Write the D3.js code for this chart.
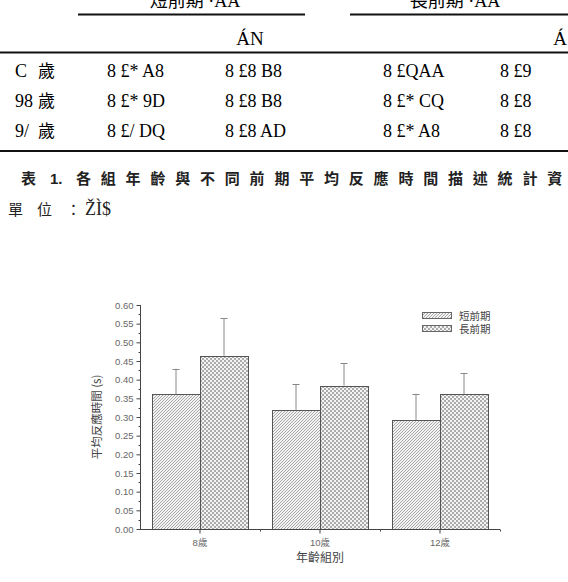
<!DOCTYPE html>
<html><head><meta charset="utf-8">
<script src="https://cdn.jsdelivr.net/npm/d3@7"></script>
<style>body{margin:0;background:#fff}svg{display:block}</style>
</head><body>
<script>
// ---- data ----
const categories = ["8歲", "10歲", "12歲"];
const seriesNames = ["短前期", "長前期"];
const shortMean = [0.361, 0.319, 0.292];
const shortSD = [0.068, 0.069, 0.070];
const longMean = [0.464, 0.384, 0.361];
const longSD = [0.101, 0.061, 0.056];
const yTicks = [0, 0.05, 0.10, 0.15, 0.20, 0.25, 0.30, 0.35, 0.40, 0.45, 0.50, 0.55, 0.60];
// table text (as rendered in the source, garbled encoding)
const tableRowLabels = ["C 歲", "98 歲", "9/ 歲"];
const tableCells = [
  ["8 £* A8", "8 £8 B8", "8 £QAA", "8 £9"],
  ["8 £* 9D", "8 £8 B8", "8 £* CQ", "8 £8"],
  ["8 £/ DQ", "8 £8 AD", "8 £* A8", "8 £8"]
];
const tableHeaders = ["短前期 ·ÀÁ", "長前期 ·ÀÁ"];
const tableSub = ["ÁN", "Á"];
const captionHead = ["表", "1."];
const captionChars = "各組年齡與不同前期平均反應時間描述統計資";
const unitLabel = ["單", "位", "："];
const unitValue = "ŽÌ$";

const W = 568, H = 582;
const svg = d3.select("body").append("svg").attr("width", W).attr("height", H);

// ---- table ----
const serif = "'Liberation Serif', 'Noto Sans CJK TC', serif";
const cjk = "'Noto Sans CJK TC', sans-serif";
const tg = svg.append("g");
tg.append("text").attr("x", 195).attr("y", 7).attr("text-anchor", "middle")
  .attr("font-family", serif).attr("font-size", 18).text(tableHeaders[0]);
tg.append("text").attr("x", 455).attr("y", 7).attr("text-anchor", "middle")
  .attr("font-family", serif).attr("font-size", 18).text(tableHeaders[1]);
tg.append("line").attr("x1", 78).attr("x2", 305).attr("y1", 14.5).attr("y2", 14.5).attr("stroke", "#111").attr("stroke-width", 2);
tg.append("line").attr("x1", 350).attr("x2", 568).attr("y1", 14.5).attr("y2", 14.5).attr("stroke", "#111").attr("stroke-width", 2);
tg.append("text").attr("x", 250).attr("y", 45).attr("text-anchor", "middle")
  .attr("font-family", serif).attr("font-size", 19).text(tableSub[0]);
tg.append("text").attr("x", 560).attr("y", 45).attr("text-anchor", "middle")
  .attr("font-family", serif).attr("font-size", 19).text(tableSub[1]);
tg.append("line").attr("x1", 0).attr("x2", 568).attr("y1", 52.5).attr("y2", 52.5).attr("stroke", "#111").attr("stroke-width", 2);
const rowY = [77, 107, 137];
const colX = [107, 225, 383, 500];
tableRowLabels.forEach((lab, i) => {
  const parts = lab.split(" ");
  tg.append("text").attr("x", 15).attr("y", rowY[i]).attr("font-family", serif).attr("font-size", 18).text(parts[0]);
  tg.append("text").attr("x", 38).attr("y", rowY[i]).attr("font-family", cjk).attr("font-size", 17).text(parts[1]);
  tableCells[i].forEach((c, j) => {
    tg.append("text").attr("x", colX[j]).attr("y", rowY[i]).attr("font-family", serif).attr("font-size", 18).text(c);
  });
});
tg.append("line").attr("x1", 0).attr("x2", 568).attr("y1", 151).attr("y2", 151).attr("stroke", "#111").attr("stroke-width", 2);
const cap = tg.append("text").attr("y", 184).attr("font-family", cjk).attr("font-size", 15).attr("font-weight", "bold").attr("fill", "#222");
cap.append("tspan").attr("x", 21).text(captionHead[0]);
cap.append("tspan").attr("x", 50).attr("font-family", "'Liberation Sans', sans-serif").text(captionHead[1]);
Array.from(captionChars).forEach((ch, i) => cap.append("tspan").attr("x", 76 + i * 24.8).text(ch));
const un = tg.append("text").attr("y", 215).attr("font-family", cjk).attr("font-size", 15).attr("fill", "#222");
unitLabel.forEach((ch, i) => un.append("tspan").attr("x", 8 + i * 29).text(ch));
un.append("tspan").attr("x", 85).attr("font-family", serif).attr("font-size", 18).text(unitValue);

// ---- chart ----
const x0 = 140, x1 = 500, yTop = 305, yBot = 529;
const x = d3.scaleBand().domain(categories).range([x0, x1]).paddingInner(0).paddingOuter(0);
const y = d3.scaleLinear().domain([0, 0.6]).range([yBot, yTop]);

const defs = svg.append("defs");
const p1 = defs.append("pattern").attr("id", "diag").attr("patternUnits", "userSpaceOnUse").attr("width", 3).attr("height", 3);
p1.append("rect").attr("width", 3).attr("height", 3).attr("fill", "#f2f2f2");
p1.append("path").attr("d", "M-1,1 l2,-2 M0,3 l3,-3 M2,4 l2,-2").attr("stroke", "#a0a0a0").attr("stroke-width", 0.9);
const p2 = defs.append("pattern").attr("id", "check").attr("patternUnits", "userSpaceOnUse").attr("width", 4).attr("height", 4);
p2.append("rect").attr("width", 4).attr("height", 4).attr("fill", "#f4f4f4");
p2.append("rect").attr("width", 2).attr("height", 2).attr("fill", "#ababab");
p2.append("rect").attr("x", 2).attr("y", 2).attr("width", 2).attr("height", 2).attr("fill", "#ababab");
const fills = ["url(#diag)", "url(#check)"];

const data = [];
categories.forEach((c, i) => {
  data.push({cat: c, s: seriesNames[0], v: shortMean[i], e: shortSD[i], k: 0});
  data.push({cat: c, s: seriesNames[1], v: longMean[i], e: longSD[i], k: 1});
});
const barW = 48;
const bx = d => x(d.cat) + x.bandwidth() / 2 - (d.k === 0 ? barW : 0);

const cg = svg.append("g");
cg.selectAll("line.err").data(data).join("line").attr("class", "err")
  .attr("x1", d => bx(d) + barW / 2).attr("x2", d => bx(d) + barW / 2)
  .attr("y1", d => y(d.v)).attr("y2", d => y(d.v + d.e))
  .attr("stroke", "#888").attr("stroke-width", 1);
cg.selectAll("line.cap").data(data).join("line").attr("class", "cap")
  .attr("x1", d => bx(d) + barW / 2 - 3.5).attr("x2", d => bx(d) + barW / 2 + 3.5)
  .attr("y1", d => Math.round(y(d.v + d.e)) + 0.5).attr("y2", d => Math.round(y(d.v + d.e)) + 0.5)
  .attr("stroke", "#888").attr("stroke-width", 1);
cg.selectAll("rect.bar").data(data).join("rect").attr("class", "bar")
  .attr("x", d => Math.round(bx(d)) + 0.5).attr("width", barW)
  .attr("y", d => Math.round(y(d.v)) + 0.5).attr("height", d => yBot - Math.round(y(d.v)))
  .attr("fill", d => fills[d.k]).attr("stroke", "#555").attr("stroke-width", 1);

// y axis
const yAxis = d3.axisLeft(y).tickValues(yTicks).tickFormat(d3.format(".2f")).tickSize(4).tickPadding(3);
const ya = svg.append("g").attr("transform", `translate(${x0 + 0.5},0)`).call(yAxis);
const minorY = d3.range(0.025, 0.6, 0.05);
ya.selectAll("line.minor").data(minorY).join("line").attr("class", "minor")
  .attr("x1", -2).attr("x2", 0).attr("y1", d => Math.round(y(d)) + 0.5).attr("y2", d => Math.round(y(d)) + 0.5).attr("stroke", "#444");
// x axis
const xAxis = d3.axisBottom(x).tickSize(4).tickPadding(6);
const xa = svg.append("g").attr("transform", `translate(0,${yBot + 0.5})`).call(xAxis);
xa.selectAll("line.minor").data([x0 + x.bandwidth(), x0 + 2 * x.bandwidth(), x1]).join("line").attr("class", "minor")
  .attr("x1", d => d + 0.5).attr("x2", d => d + 0.5).attr("y1", 0).attr("y2", 2).attr("stroke", "#444");
[ya, xa].forEach(a => {
  a.select(".domain").attr("stroke", "#444");
  a.selectAll(".tick line").attr("stroke", "#444");
  a.selectAll("text").attr("font-family", "'Liberation Sans', 'Noto Sans CJK TC', sans-serif").attr("font-size", 9.5).attr("fill", "#666");
});
ya.select(".domain").attr("d", `M0,${yBot}V${yTop}`);
xa.select(".domain").attr("d", `M${x0},0H${x1}`);

// axis titles
svg.append("text").attr("transform", `translate(101,417) rotate(-90)`).attr("text-anchor", "middle")
  .attr("font-family", cjk).attr("font-size", 11.5).attr("fill", "#444").text("平均反應時間 (s)");
svg.append("text").attr("x", 320).attr("y", 562).attr("text-anchor", "middle")
  .attr("font-family", cjk).attr("font-size", 12).attr("fill", "#444").text("年齡組別");

// legend
const lg = svg.append("g");
seriesNames.forEach((s, i) => {
  lg.append("rect").attr("x", 422.5).attr("y", 312.5 + i * 13).attr("width", 29).attr("height", 6)
    .attr("fill", fills[i]).attr("stroke", "#666").attr("stroke-width", 1);
  lg.append("text").attr("x", 459).attr("y", 319.5 + i * 13).attr("font-family", cjk)
    .attr("font-size", 10.5).attr("fill", "#444").text(s);
});
</script>
</body></html>
